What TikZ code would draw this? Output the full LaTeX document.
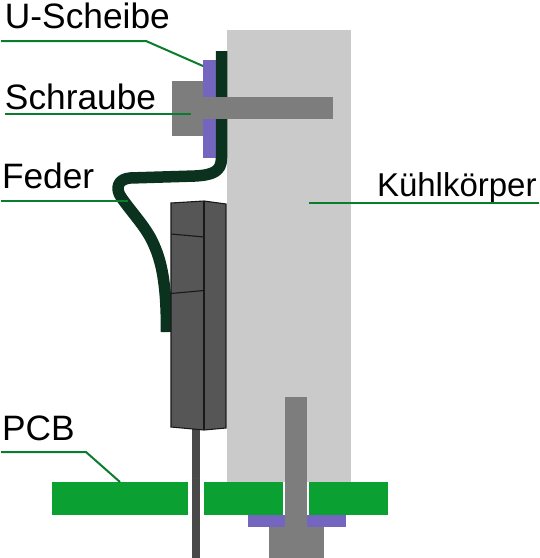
\documentclass[tikz,border=0pt]{standalone}
\usepackage{fontspec}
\setmainfont{Liberation Sans}
\definecolor{kuehl}{RGB}{202,202,202}
\definecolor{schraube}{RGB}{125,125,125}
\definecolor{gehaeuse}{RGB}{86,86,86}
\definecolor{feder}{RGB}{10,50,30}
\definecolor{scheibe}{RGB}{116,102,190}
\definecolor{platine}{RGB}{10,160,50}
\definecolor{leitung}{RGB}{10,125,45}
\begin{document}
\begin{tikzpicture}[x=1pt,y=-1pt,
    leader/.style={draw=leitung,line width=2pt},
    kontur/.style={draw=black!90,line width=1.1pt},
    beschriftung/.style={inner sep=0pt,outer sep=0pt,anchor=base west,font=\fontsize{35.3}{35}\selectfont}]
    \useasboundingbox (0,0) rectangle (540,558);
    % Kühlkörper
    \fill[kuehl] (227,30) rectangle (351,482);
    % Anschlussdraht
    \fill[gehaeuse!85!black] (192,428) rectangle (200,558);
    \draw[black!70,line width=0.6pt] (192,478) -- (200,478);
    % PCB
    \fill[platine] (52,482) rectangle (188,515);
    \fill[platine] (204,482) rectangle (283,515);
    \fill[platine] (309,482) rectangle (388,515);
    % Schraube unten
    \fill[scheibe] (247.5,515) rectangle (345.5,527);
    \fill[schraube] (285,397) rectangle (307,558);
    \fill[schraube] (269,527) rectangle (324,558);
    % Schraube oben
    \fill[scheibe] (203,60) rectangle (216,158);
    \fill[schraube] (172,81) rectangle (203,136);
    % Feder
    \draw[feder,line width=11.5pt,line join=round]
        (221.5,51) -- (221.5,158) .. controls (221.5,172) and (212,175) .. (195,176)
        -- (130,178) .. controls (118,179) and (115,188) .. (121,197)
        .. controls (132,213) and (147,228) .. (154,245)
        .. controls (163,265) and (166.5,290) .. (166.5,332);
    \fill[schraube] (203,97) rectangle (333,119);
    % Gehäuse
    \fill[gehaeuse] (171,203) -- (204,201) -- (226,204) -- (226,428) -- (204,430) -- (171,427) -- cycle;
    \draw[kontur] (171,203) -- (204,201) -- (226,204) -- (226,428) -- (204,430) -- (171,427) -- cycle;
    \draw[kontur] (204,201) -- (204,430);
    \draw[kontur] (171,234) -- (204,237);
    \draw[kontur] (171,293.5) -- (204,290.5);
    % Beschriftung
    \node[beschriftung] (scheibeText) at (5,28) {U-Scheibe};
    \node[beschriftung] (schraubeText) at (5,109) {Schraube};
    \node[beschriftung] (federText) at (2,188) {Feder};
    \node[beschriftung,font=\fontsize{33}{33}\selectfont] (kuehlText) at (377,196) {Kühlkörper};
    \node[beschriftung] (pcbText) at (2,440) {PCB};
    % Linien
    \coordinate (scheibeA) at (1,41);
    \coordinate (scheibeB) at (146,41);
    \coordinate (scheibeC) at (203,66);
    \coordinate (schraubeA) at (5,114);
    \coordinate (schraubeB) at (191,114);
    \coordinate (federA) at (1,201);
    \coordinate (federB) at (128,201);
    \coordinate (kuehlA) at (309,203);
    \coordinate (kuehlB) at (539,203);
    \coordinate (pcbA) at (1,452);
    \coordinate (pcbB) at (86,452);
    \coordinate (pcbC) at (120,482);
    \draw[leader] (scheibeA) -- (scheibeB) -- (scheibeC);
    \draw[leader] (schraubeA) -- (schraubeB);
    \draw[leader] (federA) -- (federB);
    \draw[leader] (kuehlA) -- (kuehlB);
    \draw[leader] (pcbA) -- (pcbB) -- (pcbC);
\end{tikzpicture}
\end{document}
